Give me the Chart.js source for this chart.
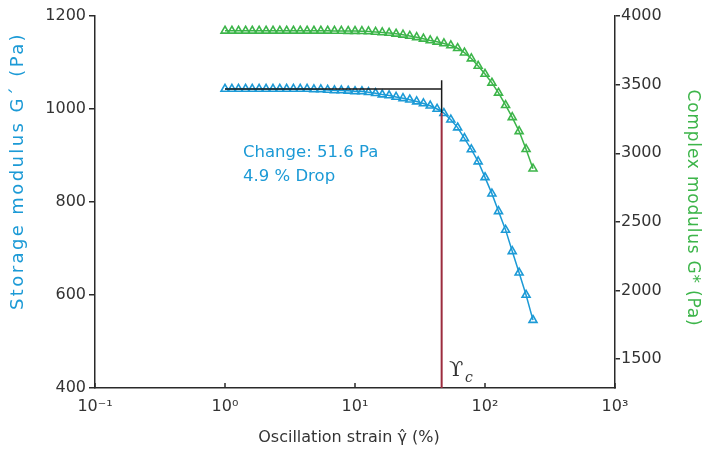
<!DOCTYPE html>
<html>
<head>
<meta charset="utf-8">
<script src="https://cdn.jsdelivr.net/npm/chart.js@4"></script>
<style>
  html, body { margin: 0; padding: 0; background: #fff; }
  canvas { display: block; }
</style>
</head>
<body>
<canvas id="chartAmp" width="705" height="453"></canvas>
<script>
const strain = [
  1, 1.13, 1.27, 1.44, 1.62, 1.83, 2.07, 2.34, 2.64, 2.98,
  3.36, 3.79, 4.28, 4.83, 5.46, 6.16, 6.95, 7.85, 8.86, 10.0,
  11.3, 12.7, 14.4, 16.2, 18.3, 20.7, 23.4, 26.4, 29.8, 33.6,
  37.9, 42.8, 48.3, 54.6, 61.6, 69.5, 78.5, 88.6, 100, 113,
  127, 144, 162, 183, 207, 234
];
// storage modulus G' (Pa), left axis
const storageMod = [
  1043, 1043, 1043, 1043, 1043, 1043, 1043, 1043, 1043, 1043,
  1043, 1043, 1043, 1042, 1042, 1041, 1040, 1040, 1039, 1038,
  1038, 1036, 1034, 1031, 1029, 1026, 1023, 1020, 1016, 1012,
  1007, 1000, 991, 977, 960, 937, 913, 887, 853, 818,
  780, 740, 694, 648, 600, 546
];
// complex modulus G* (Pa), right axis
const complexMod = [
  3892, 3892, 3892, 3892, 3892, 3892, 3892, 3892, 3892, 3892,
  3892, 3892, 3892, 3892, 3892, 3892, 3891, 3891, 3890, 3890,
  3889, 3887, 3884, 3880, 3876, 3870, 3863, 3855, 3845, 3834,
  3822, 3812, 3800, 3785, 3765, 3733, 3690, 3636, 3578, 3513,
  3440, 3350, 3262, 3160, 3030, 2888
];

// critical strain marker
const critStrain = 46.4;
const plateauG = 1043;   // G' plateau (horizontal line)
const critG = 991.4;     // G' at critical strain (plateau - 51.6)
const markTop = 1062;

const xTickVals = [0.1, 1, 10, 100, 1000];
const xTickLabels = ["10\u207B\u00B9", "10\u2070", "10\u00B9", "10\u00B2", "10\u00B3"];
const y2TickVals = [1500, 2000, 2500, 3000, 3500, 4000];

const BLUE = "#1c9ad6";
const GREEN = "#3db54a";
const AXIS = "#2a2a2a";
const TEXT = "#333333";
const FONT = "'DejaVu Sans', sans-serif";

Chart.defaults.font.family = FONT;
Chart.defaults.font.size = 16;
Chart.defaults.color = TEXT;

// texts, axis titles and inward x ticks
const overlay = {
  id: "overlay",
  afterDraw(chart) {
    const { ctx, scales: { x, y } } = chart;
    ctx.save();

    // small inward ticks on the strain axis
    ctx.strokeStyle = AXIS;
    ctx.lineWidth = 1.5;
    xTickVals.forEach(v => {
      const px = x.getPixelForValue(v);
      ctx.beginPath();
      ctx.moveTo(px, y.bottom);
      ctx.lineTo(px, y.bottom - 5);
      ctx.stroke();
    });

    // annotation text
    ctx.fillStyle = BLUE;
    ctx.font = "16.5px " + FONT;
    ctx.textBaseline = "alphabetic";
    ctx.textAlign = "left";
    ctx.fillText("Change: 51.6 Pa", 243, 157);
    ctx.fillText("4.9 % Drop", 243, 181);

    // critical strain symbol
    ctx.fillStyle = TEXT;
    ctx.font = "21px 'DejaVu Serif', serif";
    ctx.fillText("\u03D2", 449, 376);
    ctx.font = "italic 14px 'DejaVu Serif', serif";
    ctx.fillText("c", 465, 382);

    // x title
    ctx.font = "16px " + FONT;
    ctx.textAlign = "center";
    ctx.textBaseline = "middle";
    ctx.fillStyle = TEXT;
    ctx.fillText("Oscillation strain \u03B3\u0302 (%)", 349, 438);

    // left title
    ctx.save();
    ctx.translate(18, 171);
    ctx.rotate(-Math.PI / 2);
    ctx.fillStyle = BLUE;
    ctx.font = "18px " + FONT;
    ctx.letterSpacing = "2.4px";
    ctx.fillText("Storage modulus G\u00B4 (Pa)", 0, 0);
    ctx.restore();

    // right title
    ctx.save();
    ctx.translate(692, 208);
    ctx.rotate(Math.PI / 2);
    ctx.fillStyle = GREEN;
    ctx.font = "17px " + FONT;
    ctx.letterSpacing = "0.8px";
    ctx.fillText("Complex modulus G* (Pa)", 0, 0);
    ctx.restore();

    ctx.restore();
  }
};

const canvas = document.getElementById("chartAmp");

new Chart(canvas, {
  type: "line",
  data: {
    datasets: [
      {
        // plateau line + short black riser
        data: [
          { x: strain[0], y: plateauG },
          { x: critStrain, y: plateauG },
          { x: critStrain, y: markTop },
          { x: critStrain, y: critG }
        ],
        borderColor: "#1a1a1a",
        borderWidth: 1.5,
        pointRadius: 0,
        yAxisID: "y",
        order: 0
      },
      {
        // critical strain line
        data: [
          { x: critStrain, y: critG },
          { x: critStrain, y: 400 }
        ],
        borderColor: "#9c2c3e",
        borderWidth: 2,
        pointRadius: 0,
        yAxisID: "y",
        order: 0
      },
      {
        label: "G'",
        data: strain.map((s, i) => ({ x: s, y: storageMod[i] })),
        borderColor: BLUE,
        borderWidth: 1.5,
        pointStyle: "triangle",
        pointRadius: 4.6,
        pointBorderWidth: 1.6,
        pointBorderColor: BLUE,
        pointBackgroundColor: "rgba(0,0,0,0)",
        yAxisID: "y",
        order: 1
      },
      {
        label: "G*",
        data: strain.map((s, i) => ({ x: s, y: complexMod[i] })),
        borderColor: GREEN,
        borderWidth: 1.5,
        pointStyle: "triangle",
        pointRadius: 4.6,
        pointBorderWidth: 1.6,
        pointBorderColor: GREEN,
        pointBackgroundColor: "rgba(0,0,0,0)",
        yAxisID: "y2",
        order: 1
      }
    ]
  },
  options: {
    responsive: false,
    animation: false,
    layout: { padding: { top: 16, left: 0, right: 0, bottom: 0 } },
    plugins: {
      legend: { display: false },
      tooltip: { enabled: false }
    },
    scales: {
      x: {
        type: "logarithmic",
        min: 0.1,
        max: 1000,
        afterBuildTicks: s => { s.ticks = xTickVals.map(v => ({ value: v })); },
        afterFit: s => { s.height = 65; },
        ticks: {
          autoSkip: false,
          maxRotation: 0,
          padding: 9,
          callback: (v, i) => xTickLabels[i]
        },
        grid: { display: true, drawOnChartArea: false, drawTicks: false },
        border: { display: true, color: AXIS, width: 1.5 }
      },
      y: {
        position: "left",
        min: 400,
        max: 1200,
        afterFit: s => { s.width = 95; },
        ticks: { stepSize: 200, padding: 3, callback: v => String(v) },
        grid: { drawOnChartArea: false, tickLength: 6, color: AXIS, lineWidth: 1.5 },
        border: { display: true, color: AXIS, width: 1.5 }
      },
      y2: {
        position: "right",
        min: 1290,
        max: 4000,
        afterBuildTicks: s => { s.ticks = y2TickVals.map(v => ({ value: v })); },
        afterFit: s => { s.width = 90; },
        ticks: { padding: 1, callback: v => String(v) },
        grid: { drawOnChartArea: false, tickLength: 5, color: AXIS, lineWidth: 1.5 },
        border: { display: true, color: AXIS, width: 1.5 }
      }
    }
  },
  plugins: [overlay]
});
</script>
</body>
</html>
